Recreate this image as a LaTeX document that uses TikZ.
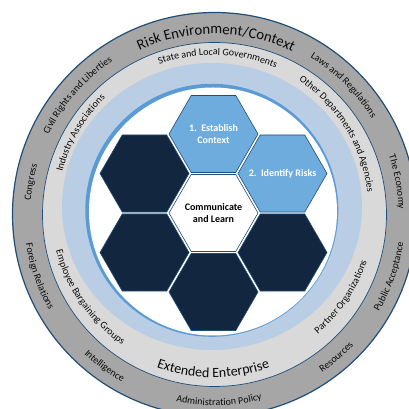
\documentclass[tikz,border=0pt]{standalone}
\usepackage{fontspec}
\setmainfont{Carlito}
\usetikzlibrary{decorations.text}
\definecolor{dgray}{HTML}{A6A6A6}
\definecolor{lgray}{HTML}{D9D9D9}
\definecolor{lblue}{HTML}{B9CDE5}
\definecolor{mblue}{HTML}{5B9BD5}
\definecolor{hexblue}{HTML}{6EACDE}
\definecolor{navy}{HTML}{12263F}
\definecolor{ringline}{HTML}{1F4E79}
\definecolor{txt}{HTML}{0A0A0A}
% clockwise text (upper half, letter tops outward)
\newcommand\cwtext[5]{%
  \path[decorate,decoration={text along path,text align=center,
    text={|\color{txt}\fontsize{#4}{#4}\selectfont|#5}}]
    ([shift={({#3+60}:#2pt)}]#1) arc[start angle={#3+60},end angle={#3-60},radius=#2pt];}
% counter-clockwise text (lower half, letter tops inward)
\newcommand\ccwtext[5]{%
  \path[decorate,decoration={text along path,text align=center,
    text={|\color{txt}\fontsize{#4}{#4}\selectfont|#5}}]
    ([shift={({#3-60}:#2pt)}]#1) arc[start angle={#3-60},end angle={#3+60},radius=#2pt];}
\begin{document}
\begin{tikzpicture}[x=1pt,y=1pt,
  hexshape/.style={draw=ringline,line width=0.6pt},
  hextext/.style={align=center,font=\bfseries\fontsize{10}{12.5}\selectfont,inner sep=0pt}]
\clip (0,0) rectangle (409,409);
\fill[white] (0,0) rectangle (409,409);
\coordinate (O1) at (214.5,194.5);
\coordinate (O2) at (212,202.5);
\coordinate (O3) at (213,197.5);
\coordinate (O3s) at (211.8,198.7);
\coordinate (O4) at (213,198.5);
% rings
\fill[dgray] (O1) circle[radius=202pt];
\draw[ringline,line width=1.2pt] (O1) circle[radius=202pt];
\fill[lgray] (O1) circle[radius=172pt];
\draw[ringline,line width=0.7pt] (O1) circle[radius=172pt];
\fill[lblue] (O2) ellipse[x radius=150pt,y radius=143.5pt];
\fill[mblue] (O3s) circle[radius=126.5pt];
\fill[white] (O3) circle[radius=124pt];
% hexagons
\coordinate (hC) at (213.5,196);
\coordinate (hN) at (213.5,275);
\coordinate (hNE) at (282.5,235.5);
\coordinate (hSE) at (282.5,156.5);
\coordinate (hS) at (213.5,117);
\coordinate (hSW) at (144.5,156.5);
\coordinate (hNW) at (144.5,235.5);
\foreach \h/\c in {hC/white,hN/hexblue,hNE/hexblue,hSE/navy,hS/navy,hSW/navy,hNW/navy}{
  \path[hexshape,fill=\c,shift={(\h)}] (0:44.5) -- (60:44.5) -- (120:44.5) -- (180:44.5) -- (240:44.5) -- (300:44.5) -- cycle;
}
\node[hextext,text=white] (t1) at (hN) {1.\ \ Establish\\Context};
\node[hextext,text=white] (t2) at (hNE) {2.\ \ Identify Risks};
\node[hextext,text=black] (t0) at (hC) {Communicate\\and Learn};
% outer ring texts
\cwtext{O1}{180.5}{89.5}{14.8}{Risk Environment/Context}
\cwtext{O1}{184}{45}{10}{Laws and Regulations}
\cwtext{O1}{184}{10.1}{10}{The Economy}
\ccwtext{O1}{191}{-19.5}{10}{Public Acceptance}
\ccwtext{O1}{191}{-49.5}{10}{Resources}
\ccwtext{O1}{191}{-88.6}{10}{Administration Policy}
\ccwtext{O1}{191}{-126}{10}{Intelligence}
\ccwtext{O1}{191}{-160.6}{10}{Foreign Relations}
\cwtext{O1}{184}{170}{10}{Congress}
\cwtext{O1}{184}{139}{10}{Civil Rights and Liberties}
% middle ring texts
\cwtext{O4}{155.5}{88.2}{10}{State and Local Governments}
\cwtext{O4}{155.5}{31.6}{10}{Other Departments and Agencies}
\ccwtext{O4}{162}{-34}{10}{Partner Organizations}
\ccwtext{O4}{167}{-89.9}{14}{Extended Enterprise}
\ccwtext{O4}{162}{-144.9}{10}{Employee Bargaining Groups}
\cwtext{O4}{155.5}{149.7}{10}{Industry Associations}
\end{tikzpicture}
\end{document}
